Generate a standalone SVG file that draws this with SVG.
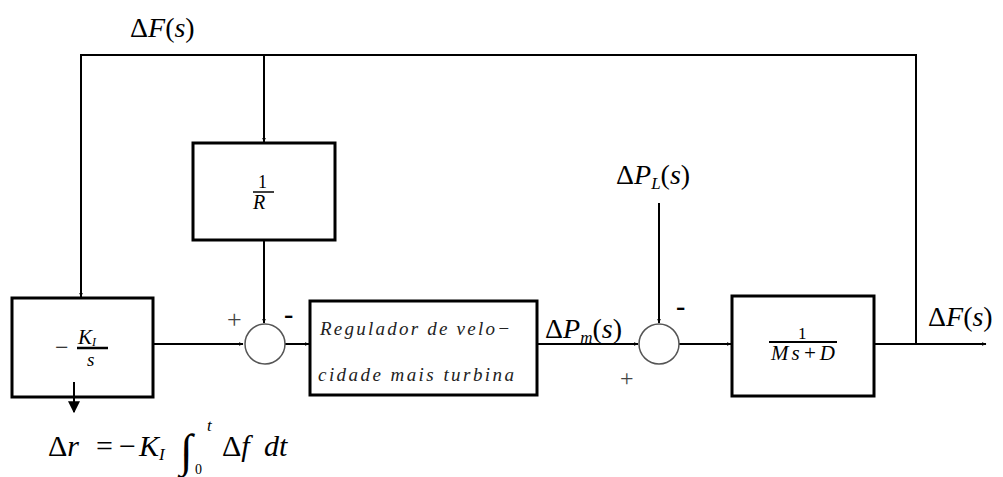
<svg xmlns="http://www.w3.org/2000/svg" width="1003" height="477" viewBox="0 0 1003 477">
<style>
.box{fill:none;stroke:#000;stroke-width:3}
.sum{fill:#fff;stroke:#555;stroke-width:1.5}
.ln{fill:none;stroke:#000;stroke-width:2}
.it{font-style:italic}
.reg{font-style:italic;font-size:19px;fill:#222}
</style>
<defs>
<marker id="ah" viewBox="0 0 10 10" refX="9" refY="5" markerWidth="5" markerHeight="5" orient="auto" markerUnits="userSpaceOnUse">
<path d="M0,1 L10,5 L0,9 z" fill="#000"/>
</marker>
<marker id="big" viewBox="0 0 10 10" refX="9" refY="5" markerWidth="12" markerHeight="12" orient="auto" markerUnits="userSpaceOnUse">
<path d="M0,0 L10,5 L0,10 z" fill="#000"/>
</marker>
</defs>
<rect width="1003" height="477" fill="#fff"/>
<g id="connectors">
<polyline class="ln" points="916,344 916,55 81,55 81,297" marker-end="url(#ah)"/>
<polyline class="ln" points="264,55 264,142" marker-end="url(#ah)"/>
<polyline class="ln" points="264,240 264,323" marker-end="url(#ah)"/>
<polyline class="ln" points="153,344 243,344" marker-end="url(#ah)"/>
<polyline class="ln" points="285,344 309,344" marker-end="url(#ah)"/>
<polyline class="ln" points="537,344 638,344" marker-end="url(#ah)"/>
<polyline class="ln" points="659,203 659,323" marker-end="url(#ah)"/>
<polyline class="ln" points="679,344 731,344" marker-end="url(#ah)"/>
<polyline class="ln" points="874,344 986,344" marker-end="url(#ah)"/>
<polyline class="ln" points="74,382 74,412" marker-end="url(#big)"/>
</g>
<g font-family="Liberation Serif, DejaVu Serif, serif" fill="#000">
<g id="integrator">
<rect class="box" x="12" y="298" width="141" height="99"/>
<text x="55" y="355" font-size="24">−</text>
<text class="it" x="78" y="344" font-size="21">K<tspan font-size="12" dy="2">I</tspan></text>
<line x1="77" y1="348" x2="108" y2="348" stroke="#000" stroke-width="2.5"/>
<text class="it" x="87" y="366" font-size="19">s</text>
</g>
<g id="droop">
<rect class="box" x="193" y="143" width="142" height="97"/>
<text x="258" y="188" font-size="18">1</text>
<line x1="253" y1="192" x2="274" y2="192" stroke="#000" stroke-width="1.5"/>
<text class="it" x="253" y="209" font-size="20">R</text>
</g>
<g id="sum1">
<circle class="sum" cx="265" cy="344" r="20"/>
<text x="227" y="328" font-size="26" fill="#444">+</text>
<text x="284" y="323" font-size="28" font-weight="bold">-</text>
</g>
<g id="regulator">
<rect class="box" x="310" y="301" width="227" height="94"/>
<text class="reg" x="320" y="335" textLength="190" lengthAdjust="spacing">Regulador de velo−</text>
<text class="reg" x="318" y="381" textLength="196" lengthAdjust="spacing">cidade mais turbina</text>
</g>
<g id="sum2">
<circle class="sum" cx="659" cy="344" r="20"/>
<text x="676" y="315" font-size="28" font-weight="bold">-</text>
<text x="620" y="386" font-size="24" fill="#444">+</text>
</g>
<g id="plant">
<rect class="box" x="732" y="296" width="142" height="100"/>
<text x="798" y="339" font-size="17">1</text>
<line x1="769" y1="342" x2="837" y2="342" stroke="#000" stroke-width="2"/>
<text class="it" x="771" y="360" font-size="21" textLength="64" lengthAdjust="spacing">Ms+D</text>
</g>
<g id="labels">
<text x="130" y="37" font-size="28">Δ<tspan class="it">F</tspan>(<tspan class="it">s</tspan>)</text>
<text x="616" y="184" font-size="28">Δ<tspan class="it">P</tspan><tspan class="it" font-size="17" dy="5">L</tspan><tspan dy="-5">(</tspan><tspan class="it">s</tspan>)</text>
<text x="545" y="338" font-size="28">Δ<tspan class="it">P</tspan><tspan class="it" font-size="17" dy="5">m</tspan><tspan dy="-5">(</tspan><tspan class="it">s</tspan>)</text>
<text x="928" y="326" font-size="28">Δ<tspan class="it">F</tspan>(<tspan class="it">s</tspan>)</text>
<text x="48" y="456" font-size="30">Δ<tspan class="it">r</tspan></text>
<text x="96" y="456" font-size="30">=</text>
<text x="119" y="456" font-size="30">−</text>
<text class="it" x="139" y="456" font-size="30">K<tspan font-size="17" dy="4">I</tspan></text>
<text class="it" x="180" y="466" font-size="46">∫</text>
<text class="it" x="207" y="431" font-size="17">t</text>
<text x="195" y="474" font-size="14">0</text>
<text x="222" y="456" font-size="30">Δ<tspan class="it">f</tspan></text>
<text class="it" x="264" y="456" font-size="30">dt</text>
</g>
</g>
</svg>
